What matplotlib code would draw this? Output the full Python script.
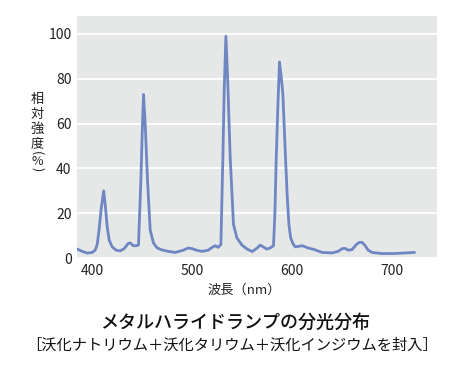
import matplotlib
matplotlib.use("Agg")
import matplotlib.pyplot as plt

plt.rcParams['font.family'] = ['Noto Sans CJK JP', 'DejaVu Sans']

# spectrum (wavelength nm, relative intensity %)
wavelength = [385, 390, 395, 400, 403, 405, 407, 409, 411.5, 413, 415, 417, 420,
              424, 428, 432, 436, 438, 441, 444, 446.3, 448.7, 450.3, 451.3, 453,
              455.3, 458, 461.3, 465, 470, 476, 483, 491, 496, 500, 505, 510,
              516, 520, 523, 526, 528.7, 530.7, 532, 533.7, 535.3, 538, 541.3,
              544.7, 549.7, 555, 560, 565, 568, 571, 574.7, 578, 581.3, 582.7,
              584, 585.7, 587.3, 589, 590.7, 593.3, 595, 596.7, 598.5, 600.7,
              603, 606, 610, 616, 622, 630, 640, 646, 650, 653, 656, 660, 664,
              667, 670, 673, 676, 680, 690, 700, 710, 722]
intensity = [4.0, 3.0, 2.2, 2.5, 3.5, 6, 13, 22, 30, 24, 14, 8, 5,
             3.5, 3.2, 4.2, 6.5, 6.8, 5.5, 5.5, 5.8, 35, 60, 73, 60,
             35, 12.5, 6.7, 4.5, 3.6, 3.0, 2.5, 3.5, 4.5, 4.2, 3.4, 3.0,
             3.5, 4.8, 5.5, 4.8, 6, 45, 75, 99, 82, 45, 15,
             9, 5.8, 4.0, 2.9, 4.5, 5.8, 5.0, 4.0, 4.5, 5.5, 20,
             44, 68, 87.5, 81, 73, 45, 28, 15, 9, 6.5,
             5, 5.2, 5.5, 4.5, 3.8, 2.5, 2.3, 3, 4.2, 4.3, 3.5, 3.8, 6,
             7, 7, 5.5, 3.5, 2.5, 2.0, 2.0, 2.2, 2.5]

xticks = [400, 500, 600, 700]
yticks = [0, 20, 40, 60, 80, 100]

fig = plt.figure(figsize=(4.54, 3.65), dpi=100)
ax = fig.add_axes([0.170, 0.293, 0.793, 0.663])
ax.set_facecolor('#e6e8e8')
ax.plot(wavelength, intensity, color='#6e87c3', lw=2, solid_joinstyle='round', zorder=3)

ax.set_xlim(385, 745)
ax.set_ylim(0, 108)
ax.set_xticks(xticks)
ax.set_yticks(yticks)
ax.grid(axis='y', color='white', lw=1.3)
ax.set_axisbelow(True)
for s in ax.spines.values():
    s.set_visible(False)
ax.tick_params(length=0, labelsize=10, colors='#222222', pad=4)

# vertical y label: characters stacked, brackets turned
H = 365.0
ylab_x = 37 / 454
for ch, ypx, rot, fs in [('相', 99, 0, 9.5), ('対', 114, 0, 9.5), ('強', 129, 0, 9.5),
                         ('度', 144, 0, 9.5), ('(', 153, -90, 9), ('%', 161, 0, 9),
                         (')', 169, -90, 9)]:
    fig.text(ylab_x, 1 - ypx / H, ch, ha='center', va='center', rotation=rot,
             fontsize=fs, color='#222222')

fig.text(0.537, 0.205, '波長（nm）', ha='center', va='center', fontsize=9.5, color='#222222')
fig.text(0.518, 0.115, 'メタルハライドランプの分光分布', ha='center', va='center',
         fontsize=13, fontweight='medium', color='#111111')
fig.text(0.512, 0.055, '［沃化ナトリウム＋沃化タリウム＋沃化インジウムを封入］',
         ha='center', va='center', fontsize=11, color='#111111')

fig.savefig('out.png', dpi=100)
